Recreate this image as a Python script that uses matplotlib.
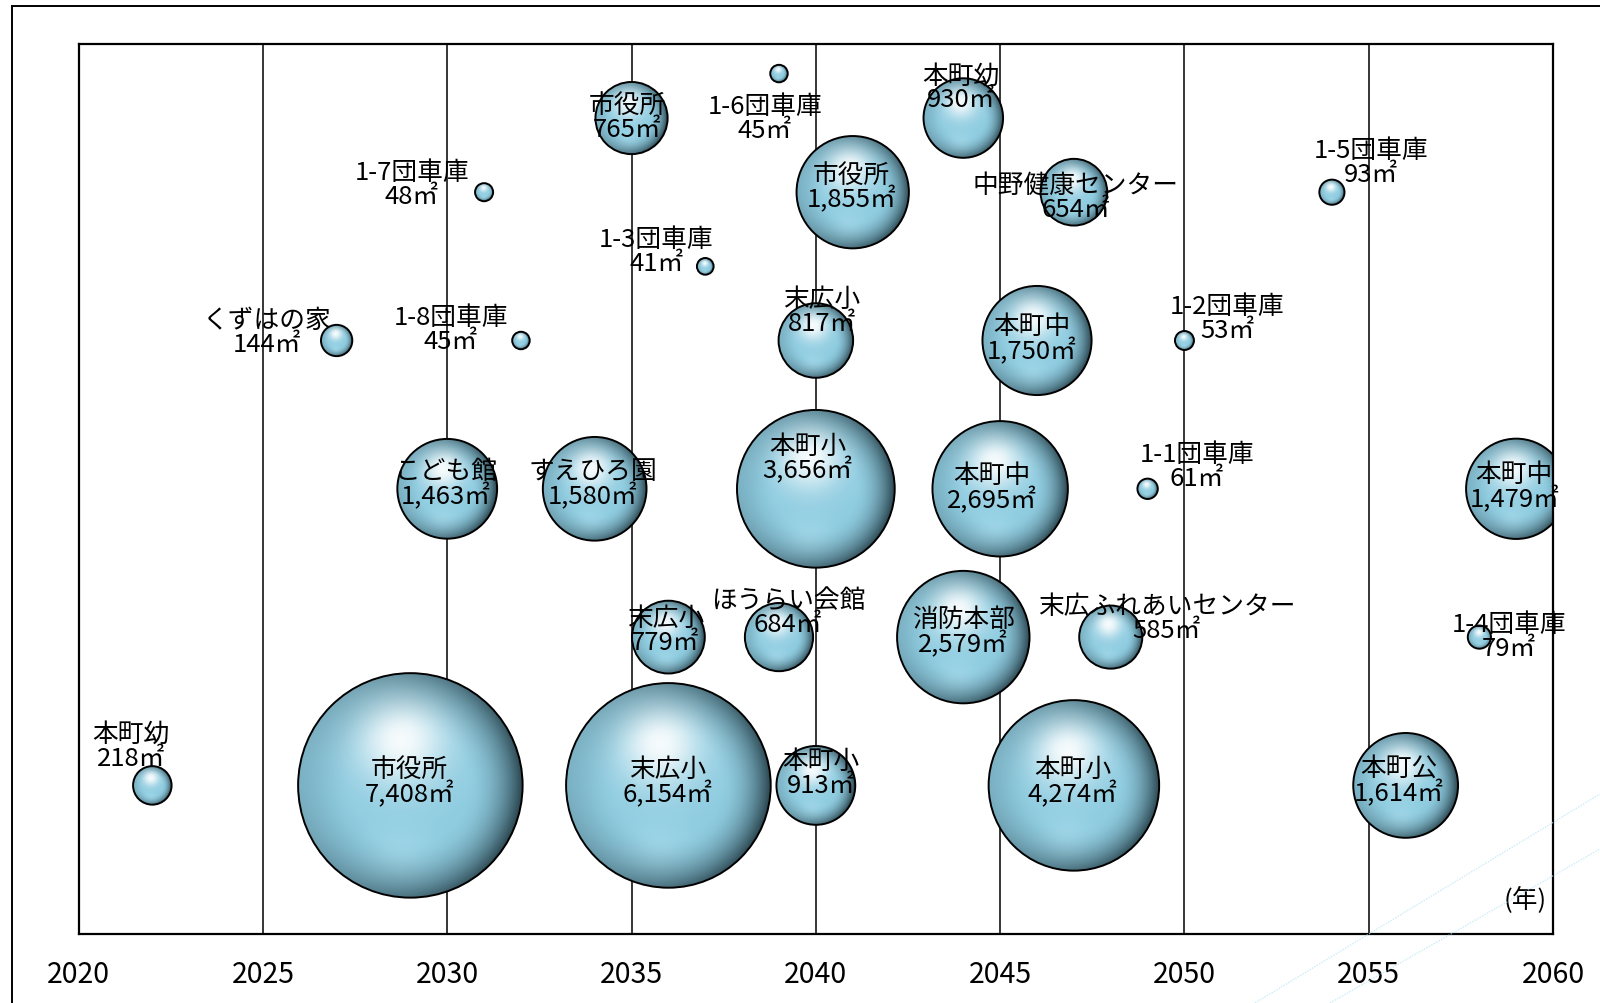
import numpy as np
import matplotlib
matplotlib.use("Agg")
import matplotlib.pyplot as plt
from matplotlib.patches import Ellipse, Rectangle
from matplotlib.lines import Line2D

plt.rcParams['font.family'] = ['Noto Sans CJK JP', 'DejaVu Sans']

# 施設名・更新年・延床面積(㎡)・段
names = ["本町幼", "市役所", "末広小", "本町小", "本町小", "本町公",
         "末広小", "ほうらい会館", "消防本部", "末広ふれあいセンター", "1-4団車庫",
         "こども館", "すえひろ園", "本町小", "本町中", "1-1団車庫", "本町中",
         "くずはの家", "1-8団車庫", "末広小", "本町中", "1-2団車庫",
         "1-7団車庫", "市役所", "中野健康センター", "1-5団車庫",
         "市役所", "1-6団車庫", "本町幼", "1-3団車庫"]
years = [2022, 2029, 2036, 2040, 2047, 2056,
         2036, 2039, 2044, 2048, 2058,
         2030, 2034, 2040, 2045, 2049, 2059,
         2027, 2032, 2040, 2046, 2050,
         2031, 2041, 2047, 2054,
         2035, 2039, 2044, 2037]
rows = [1, 1, 1, 1, 1, 1,
        2, 2, 2, 2, 2,
        3, 3, 3, 3, 3, 3,
        4, 4, 4, 4, 4,
        5, 5, 5, 5,
        5.5, 5.8, 5.5, 4.5]
areas = [218, 7408, 6154, 913, 4274, 1614,
         779, 684, 2579, 585, 79,
         1463, 1580, 3656, 2695, 61, 1479,
         144, 45, 817, 1750, 53,
         48, 1855, 654, 93,
         765, 45, 930, 41]

# ラベル位置のずらし量 (px, 右・下が正)
label_offsets = [(-21, -39), (-1, -4), (-1, -4), (5, -12), (-1, -4), (-7, -5),
                 (-3, -7), (9, -25), (0, -5), (55, -19), (29, -1),
                 (-1, -5), (-2, -5), (-8, -30), (-8, -1), (48, -22), (-2, -2),
                 (-68, -8), (-69, -11), (6, -29), (-5, -2), (42, -22),
                 (-71, -8), (-1, -5), (2, 5), (38, -30),
                 (-4, -1), (-14, 44), (-2, -30), (-48, -15)]

fig = plt.figure(figsize=(16, 10.04), dpi=100)
ax = fig.add_axes([78.6 / 1600, 1 - 934.7 / 1004, 1474.5 / 1600, 889.8 / 1004])
ax.set_xlim(2020, 2060)
ax.set_ylim(0, 6)

# グラフエリアの枠
fig.patches.append(Rectangle((11.7 / 1600, -0.05), 1.2, 1 - 7.1 / 1004 + 0.05,
                             transform=fig.transFigure, fill=False,
                             edgecolor="black", linewidth=1.4, zorder=0))

# 背景の斜線
for (x0, y0, x1, y1) in [(1255, 1004, 1600, 795), (1330, 1004, 1600, 850)]:
    fig.lines.append(Line2D([x0 / 1600, x1 / 1600], [1 - y0 / 1004, 1 - y1 / 1004],
                            transform=fig.transFigure, color="#b5e4f4",
                            linewidth=1.0, linestyle=(0, (1, 1)), alpha=0.7))

for yr in range(2025, 2060, 5):
    ax.axvline(yr, color="black", linewidth=1.1, zorder=1)

for sp in ax.spines.values():
    sp.set_linewidth(1.6)
ax.set_yticks([])
ax.set_xticks(range(2020, 2061, 5))
ax.tick_params(axis="x", length=0, pad=18.5, labelsize=20.5)

# 球体のグラデーション
n = 240
u, v = np.meshgrid(np.linspace(-1, 1, n), np.linspace(1, -1, n))
r = np.sqrt(u ** 2 + v ** 2)
base = np.array([0.56, 0.80, 0.88])
hl = np.exp(-((u + 0.08) ** 2 + (v - 0.40) ** 2) / 0.16)
col = base[None, None, :] + (1 - base[None, None, :]) * (0.92 * hl)[..., None]
low = np.exp(-((u + 0.1) ** 2 + (v + 0.62) ** 2) / 0.08)
col = col + (np.array([0.72, 0.90, 0.95]) - col) * (0.35 * low)[..., None]
edge = np.clip((r - 0.5) / 0.5, 0, 1) ** 1.8
w = np.clip(0.55 + 0.45 * (0.8 * u - 0.2 * v), 0, 1)
k = (edge * w * 0.92)[..., None]
dark = np.array([0.09, 0.17, 0.20])
col = col * (1 - k) + dark[None, None, :] * k
sphere = np.clip(col, 0, 1)

bb = ax.get_window_extent(renderer=fig.canvas.get_renderer())
px_x = bb.width / 40.0
px_y = bb.height / 6.0
d_max = 224.5

for yr, row, a in zip(years, rows, areas):
    d = d_max * np.sqrt(a / 7408.0)
    wdt, hgt = d / px_x, d / px_y
    circ = Ellipse((yr, row), wdt, hgt, facecolor="none", edgecolor="black",
                   linewidth=1.4, zorder=3)
    ax.add_patch(circ)
    clip = Ellipse((yr, row), wdt, hgt, transform=ax.transData)
    im = ax.imshow(sphere, extent=(yr - wdt / 2, yr + wdt / 2, row - hgt / 2, row + hgt / 2),
                   interpolation="bilinear", zorder=2, aspect="auto")
    im.set_clip_path(clip)

ax.set_xlim(2020, 2060)
ax.set_ylim(0, 6)

for nm, yr, row, a, (dx, dy) in zip(names, years, rows, areas, label_offsets):
    ax.annotate(f"{nm}\n{a:,}㎡", xy=(yr, row), xytext=(dx * 1.02, -dy * 1.02),
                textcoords="offset pixels", ha="center", va="center",
                multialignment="center", fontsize=18.5, linespacing=0.9, zorder=4)

ax.annotate("(年)", xy=(1, 0), xycoords="axes fraction", xytext=(-6, 35),
            textcoords="offset pixels", ha="right", va="center", fontsize=18.5)

fig.savefig("out.png", dpi=100)
